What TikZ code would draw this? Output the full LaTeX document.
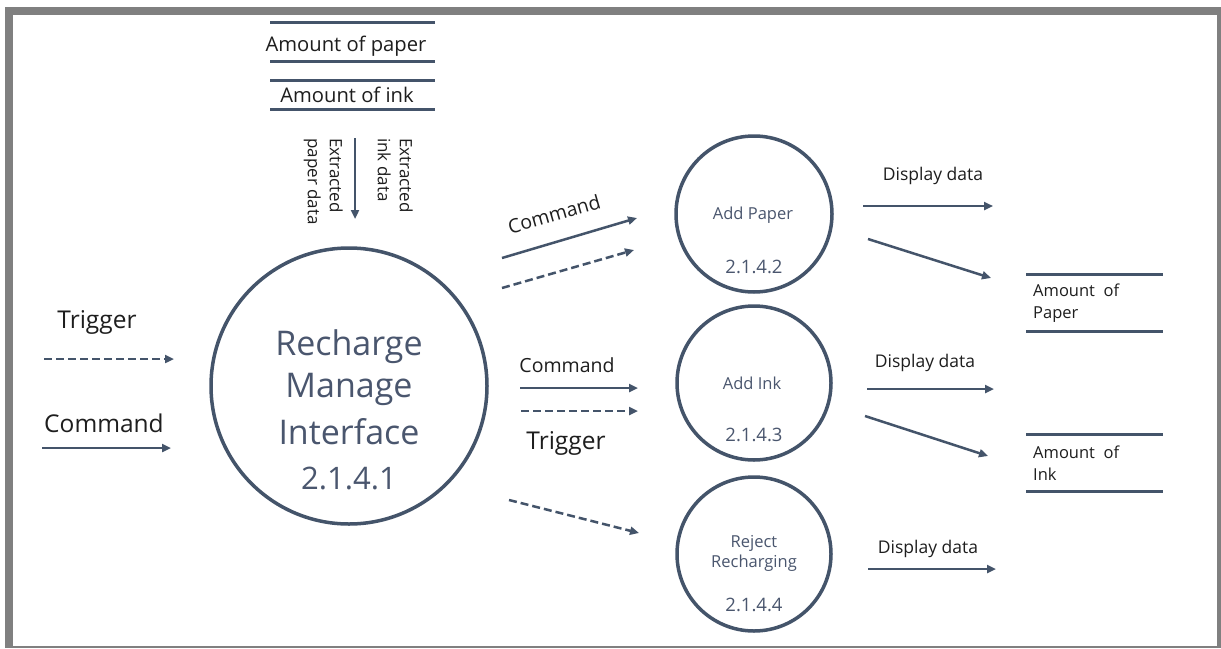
\documentclass[tikz,border=0pt]{standalone}
\usepackage{fontspec}
\setmainfont{Open Sans}
\usetikzlibrary{arrows.meta}
\definecolor{ln}{HTML}{44546A}
\definecolor{framec}{HTML}{808080}
\definecolor{txt}{HTML}{1E1E1E}
\definecolor{ptxt}{HTML}{4A566E}
\tikzset{
  proc/.style={circle, draw=ln, line width=3.5pt, minimum size=#1, inner sep=0pt},
  flow/.style={draw=ln, line width=2.5pt, -{Triangle[length=9pt,width=8pt]}},
  dflow/.style={flow, dash pattern=on 8pt off 4pt},
  storeline/.style={draw=ln, line width=3pt},
  lbl/.style={text=txt, inner sep=0pt, font=\fontsize{24.5}{28}\selectfont},
  slbl/.style={text=txt, inner sep=0pt, font=\fontsize{17.5}{21}\selectfont},
  mlbl/.style={text=txt, inner sep=0pt, font=\fontsize{19.5}{23}\selectfont},
  big/.style={text=ptxt, inner sep=0pt, font=\fontsize{34}{40}\selectfont},
  small/.style={text=ptxt, inner sep=0pt, font=\fontsize{16.5}{20}\selectfont},
  num/.style={text=ptxt, inner sep=0pt, font=\fontsize{18.5}{22}\selectfont},
}
\begin{document}
\begin{tikzpicture}[x=1pt,y=-1pt]
\useasboundingbox (0,0) rectangle (1221,648);
\fill[framec] (5,7) rectangle (1221,648);
\fill[white] (13,15) rectangle (1217,646);

% processes
\node[proc=276pt] (p1) at (349,386) {};
\node[big] (p1a) at (349,347) {Recharge};
\node[big] (p1b) at (349,389) {Manage};
\node[big] (p1c) at (349,432) {Interface};
\node[big, font=\fontsize{31}{36}\selectfont] (p1d) at (349,478) {2.1.4.1};

\node[proc=156pt] (p2) at (754,214) {};
\node[small] (p2a) at (753,215) {Add Paper};
\node[num] (p2b) at (754,267) {2.1.4.2};

\node[proc=154pt] (p3) at (754,383) {};
\node[small] (p3a) at (752,383) {Add Ink};
\node[num] (p3b) at (754,435) {2.1.4.3};

\node[proc=154pt] (p4) at (754,554) {};
\node[small, align=center] (p4a) at (754,553) {Reject\\Recharging};
\node[num] (p4b) at (754,605) {2.1.4.4};

% top stores
\coordinate (s1a) at (270,22); \coordinate (s1b) at (435,22);
\coordinate (s1c) at (270,61); \coordinate (s1d) at (435,61);
\draw[storeline] (s1a) -- (s1b);
\draw[storeline] (s1c) -- (s1d);
\node[slbl, font=\fontsize{20.2}{24}\selectfont] (s1t) at (346,46) {Amount of paper};
\coordinate (s2a) at (270,80); \coordinate (s2b) at (435,80);
\coordinate (s2c) at (270,109); \coordinate (s2d) at (435,109);
\draw[storeline] (s2a) -- (s2b);
\draw[storeline] (s2c) -- (s2d);
\node[slbl, font=\fontsize{20.2}{24}\selectfont] (s2t) at (347,95) {Amount of ink};

% extracted data arrow
\coordinate (e1) at (355,138); \coordinate (e2) at (355,219);
\draw[flow] (e1) -- (e2);
\node[slbl, font=\fontsize{17}{22}\selectfont, rotate=-90, align=left, anchor=north west] (ex1) at (343,138) {Extracted\\paper data};
\node[slbl, font=\fontsize{17}{22}\selectfont, rotate=-90, align=left, anchor=north west] (ex2) at (413,138) {Extracted\\ink data};

% left inputs
\node[lbl] (lt) at (97,322) {Trigger};
\coordinate (lt1) at (44,359); \coordinate (lt2) at (174,359);
\draw[dflow] (lt1) -- (lt2);
\node[lbl] (lc) at (104,423) {Command};
\coordinate (lc1) at (42,448); \coordinate (lc2) at (171,448);
\draw[flow] (lc1) -- (lc2);

% to Add Paper
\node[mlbl, rotate=16] (mc1) at (554,214) {Command};
\coordinate (a1) at (502,258); \coordinate (a2) at (637,218);
\draw[flow] (a1) -- (a2);
\coordinate (a3) at (502,288); \coordinate (a4) at (634,250);
\draw[dflow] (a3) -- (a4);

% to Add Ink
\node[mlbl] (mc2) at (567,365) {Command};
\coordinate (b1) at (520,388); \coordinate (b2) at (638,388);
\draw[flow] (b1) -- (b2);
\coordinate (b3) at (521,411); \coordinate (b4) at (638,411);
\draw[dflow] (b3) -- (b4);
\node[lbl] (mt) at (566,443) {Trigger};

% to Reject
\coordinate (c1) at (509,500); \coordinate (c2) at (639,533);
\draw[dflow] (c1) -- (c2);

% right outputs
\node[slbl] (d1) at (933,176) {Display data};
\coordinate (d1a) at (863,206); \coordinate (d1b) at (993,206);
\draw[flow] (d1a) -- (d1b);
\coordinate (d1c) at (868,239); \coordinate (d1d) at (991,278);
\draw[flow] (d1c) -- (d1d);

\coordinate (r1a) at (1026,274); \coordinate (r1b) at (1163,274);
\coordinate (r1c) at (1026,331); \coordinate (r1d) at (1163,331);
\draw[storeline] (r1a) -- (r1b);
\draw[storeline] (r1c) -- (r1d);
\node[slbl, align=left, anchor=west, font=\fontsize{16.5}{22}\selectfont] (r1t) at (1033,303) {Amount\ \ of\\Paper};

\node[slbl] (d2) at (925,363) {Display data};
\coordinate (d2a) at (867,389); \coordinate (d2b) at (994,389);
\draw[flow] (d2a) -- (d2b);
\coordinate (d2c) at (865,416); \coordinate (d2d) at (988,456);
\draw[flow] (d2c) -- (d2d);

\coordinate (r2a) at (1026,434); \coordinate (r2b) at (1163,434);
\coordinate (r2c) at (1026,491); \coordinate (r2d) at (1163,491);
\draw[storeline] (r2a) -- (r2b);
\draw[storeline] (r2c) -- (r2d);
\node[slbl, align=left, anchor=west, font=\fontsize{16.5}{22}\selectfont] (r2t) at (1033,463) {Amount\ \ of\\Ink};

\node[slbl] (d3) at (928,549) {Display data};
\coordinate (d3a) at (868,569); \coordinate (d3b) at (996,569);
\draw[flow] (d3a) -- (d3b);
\end{tikzpicture}
\end{document}
